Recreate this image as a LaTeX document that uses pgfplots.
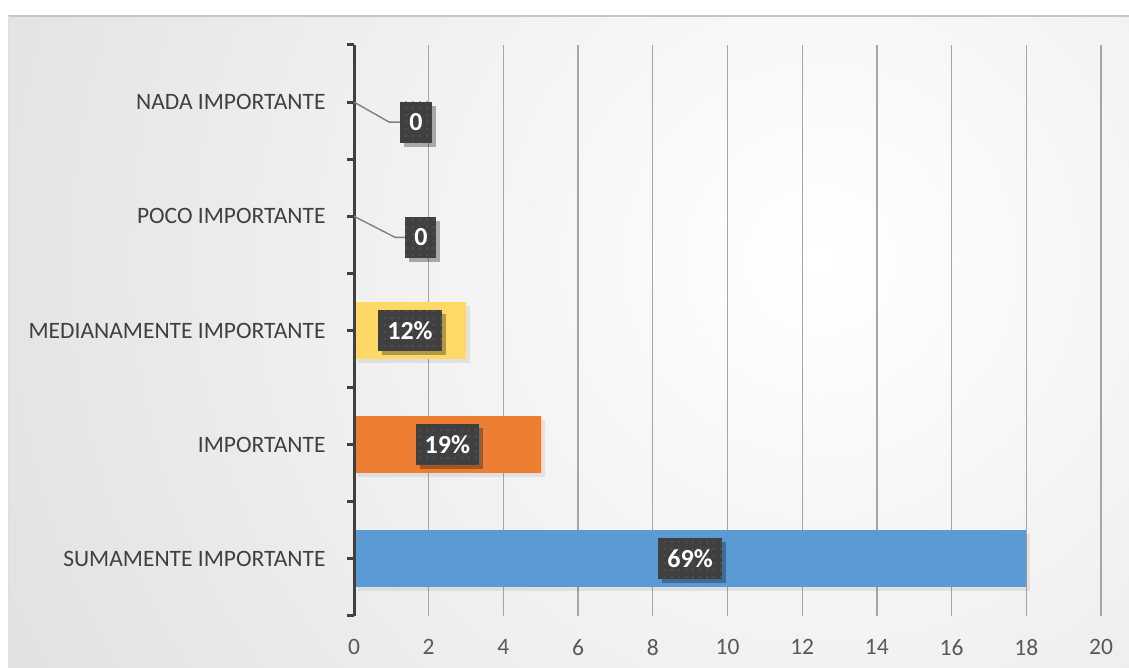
\documentclass[border=0pt]{standalone}
\usepackage{fontspec}
\setmainfont{Carlito}
\usepackage{pgfplots}
\pgfplotsset{compat=1.18}
\usepackage{pgfplotstable}
\usetikzlibrary{shadows,patterns.meta}

\definecolor{barblue}{HTML}{5B9BD5}
\definecolor{barorange}{HTML}{ED7D31}
\definecolor{baryellow}{HTML}{FFD966}
\definecolor{boxdark}{HTML}{404040}
\definecolor{dotgray}{HTML}{5E5E5E}
\definecolor{txtgray}{HTML}{404040}
\definecolor{tickgray}{HTML}{595959}
\definecolor{gridgray}{HTML}{A6A6A6}
\definecolor{bggray}{HTML}{C6C6C6}
\definecolor{leader}{HTML}{808080}

% label positions: x = middle of bar (or offset for zero values), y = category
\pgfplotstableread{
x     y      lab
9.0   0      69\%
2.5   1      19\%
1.5   2      12\%
1.79  2.816  0
1.66  3.825  0
}\labels

\pgfplotsset{
  mybar/.style={xbar, bar width=0.5, bar shift=0pt, draw=none},
  shadowed/.style={drop shadow={shadow xshift=4pt, shadow yshift=-4pt,
      fill=black, opacity=0.07}},
}

\begin{document}
\begin{tikzpicture}[x=1pt,y=1pt]
\useasboundingbox (0,0) rectangle (1129,668);
\fill[white] (0,0) rectangle (1129,668);
\begin{scope}
  \clip (8,0) rectangle (1129,652);
  \fill[bggray] (8,0) rectangle (1129,652);
  \shade[inner color=white, outer color=bggray] (820,408) circle (1750);
\end{scope}
\draw[gray!45, line width=1.2] (8,652) -- (1129,652);
\draw[gray!25] (8,0) -- (8,652);

\begin{axis}[
  at={(354pt,52pt)}, anchor=south west,
  scale only axis, width=747pt, height=571pt,
  xmin=0, xmax=20, ymin=-0.5, ymax=4.5,
  axis lines*=left,
  x axis line style={draw=none},
  y axis line style={txtgray, line width=3pt},
  xtick={0,2,...,20},
  xtick style={draw=none},
  xmajorgrids,
  grid style={gridgray, line width=1.3pt},
  ytick={-0.5,0.5,...,4.5},
  yticklabels={,,,,,},
  ytick style={txtgray, line width=3pt},
  tick align=outside,
  major tick length=7pt,
  extra y ticks={0,1,2,3,4},
  extra y tick labels={SUMAMENTE IMPORTANTE, IMPORTANTE, MEDIANAMENTE IMPORTANTE, POCO IMPORTANTE, NADA IMPORTANTE},
  extra y tick style={draw=none, ymajorgrids=false,
    tick label style={text=txtgray, font=\fontsize{23.5}{26}\selectfont}},
  yticklabel style={xshift=-18pt},
  /pgf/number format/assume math mode=true,
  xticklabel style={text=tickgray, font=\fontsize{23.5}{26}\selectfont, yshift=-13pt},
  clip=false,
]
\addplot[mybar, shadowed, fill=barblue]   coordinates {(18,0)};
\addplot[mybar, shadowed, fill=barorange] coordinates {(5,1)};
\addplot[mybar, shadowed, fill=baryellow] coordinates {(3,2)};
\addplot[mybar, fill=none] coordinates {(0,3)};
\addplot[mybar, fill=none] coordinates {(0,4)};

\draw[txtgray, line width=3pt] (axis cs:0,-0.5) -- (axis cs:0,4.5);

% leader lines for the zero labels
\draw[leader, line width=1.4pt] (axis cs:0,3) -- (axis cs:1.10,2.816) -- (axis cs:1.39,2.816);
\draw[leader, line width=1.4pt] (axis cs:0,4) -- (axis cs:0.94,3.825) -- (axis cs:1.25,3.825);

\addplot[draw=none, mark=none,
  nodes near coords, point meta=explicit symbolic,
  nodes near coords align=center,
  every node near coord/.style={anchor=center, fill=boxdark,
    postaction={pattern={Dots[radius=0.8pt, distance=7pt]}, pattern color=dotgray},
    drop shadow={shadow xshift=4pt, shadow yshift=-4pt, fill=black, opacity=0.3},
    text=white, font=\bfseries\fontsize{26}{28}\selectfont,
    inner xsep=9pt, inner ysep=0pt, minimum height=41pt},
] table[x=x, y=y, meta=lab] {\labels};
\end{axis}
\end{tikzpicture}
\end{document}
